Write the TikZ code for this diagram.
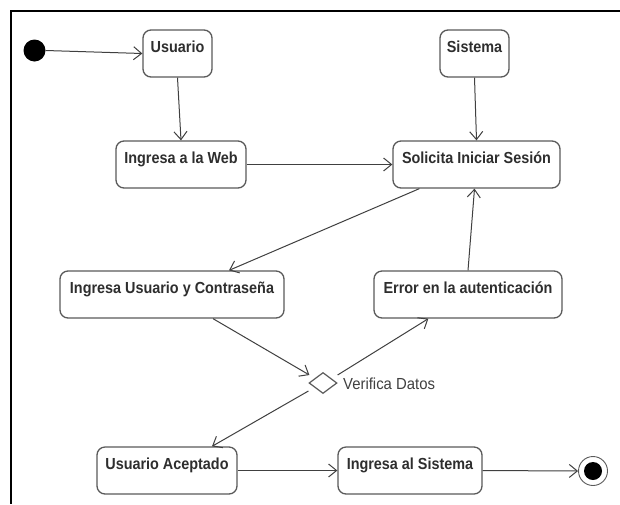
\documentclass[tikz,border=0pt]{standalone}
\usepackage{fontspec}
\setmainfont{Liberation Sans}
\newfontfamily\statefont[FakeStretch=0.9]{Liberation Sans}
\newfontfamily\notefont[FakeStretch=0.93]{Liberation Sans}
\usetikzlibrary{arrows.meta,shapes.geometric,calc}
\definecolor{boxline}{HTML}{5A5A5A}
\definecolor{flowline}{HTML}{404040}
\definecolor{txt}{HTML}{2E2E2E}
\begin{document}
\begin{tikzpicture}[x=1pt,y=-1pt,
  state/.style={draw=boxline, line width=1.3pt, rounded corners=8pt,
    rectangle, inner xsep=0pt, inner ysep=0pt, text height=22pt, text depth=25pt,
    font=\statefont\fontsize{16}{18}\selectfont\bfseries, text=txt},
  flow/.style={draw=flowline, line width=1pt,
    -{Straight Barb[length=8pt,width=13pt,line width=1pt]}},
  choice/.style={draw=boxline, line width=1.2pt, diamond, shape aspect=1.35,
    minimum width=28pt, minimum height=21pt, inner sep=0pt, fill=white}]
\useasboundingbox (0,0) rectangle (620,504);
\fill[white] (0,0) rectangle (620,504);
% frame
\draw[line width=2.6pt, black] (620,11) -- (11,11) -- (11,504);

% initial and final states
\node[circle, fill=black, minimum size=22pt, inner sep=0pt] (ini) at (34.5,50.5) {};
\node[circle, draw=boxline, line width=0.9pt, fill=white, minimum size=29pt, inner sep=0pt] (fin) at (593,471) {};
\node[circle, fill=black, minimum size=18pt, inner sep=0pt] (fincore) at (fin) {};

% activities
\node[state, minimum width=69pt] (usu) at (177.5,53.5) {Usuario};
\node[state, minimum width=69pt] (sis) at (474.5,53.5) {Sistema};
\node[state, minimum width=130pt] (web) at (181,164.5) {Ingresa a la Web};
\node[state, minimum width=167pt] (sol) at (476.5,164.5) {Solicita Iniciar Sesión};
\node[state, minimum width=224pt] (cred) at (172,294.5) {Ingresa Usuario y Contraseña};
\node[state, minimum width=188pt] (err) at (468,294.5) {Error en la autenticación};
\node[state, minimum width=140pt] (acep) at (167,470.5) {Usuario Aceptado};
\node[state, minimum width=144pt] (isis) at (410,470.5) {Ingresa al Sistema};

% decision
\node[choice] (dec) at (323,383) {};
\node[anchor=west, text=flowline, font=\notefont\fontsize{16}{18}\selectfont, inner sep=0pt] (declbl) at (343,384) {Verifica Datos};

% transitions
\draw[flow] (ini.east) -- (usu.west);
\draw[flow] (usu.south) -- (web.north);
\draw[flow] (web.east) -- (sol.west);
\draw[flow] (sis.south) -- (sol.north);
\draw[flow] ($(sol.south west)+(27,0)$) -- ($(cred.north)+(57,0)$);
\draw[flow] (err.north) -- ($(sol.south)+(-2,0)$);
\draw[flow] ($(cred.south)+(41,0)$) -- ($(dec.west)+(1,-8)$);
\draw[flow] ($(dec.east)+(0,-8)$) -- ($(err.south west)+(55,0)$);
\draw[flow] ($(dec.west)+(0,8)$) -- ($(acep.north)+(45,0)$);
\draw[flow] (acep.east) -- (isis.west);
\draw[flow] (isis.east) -- (fin.west);
\end{tikzpicture}
\end{document}
